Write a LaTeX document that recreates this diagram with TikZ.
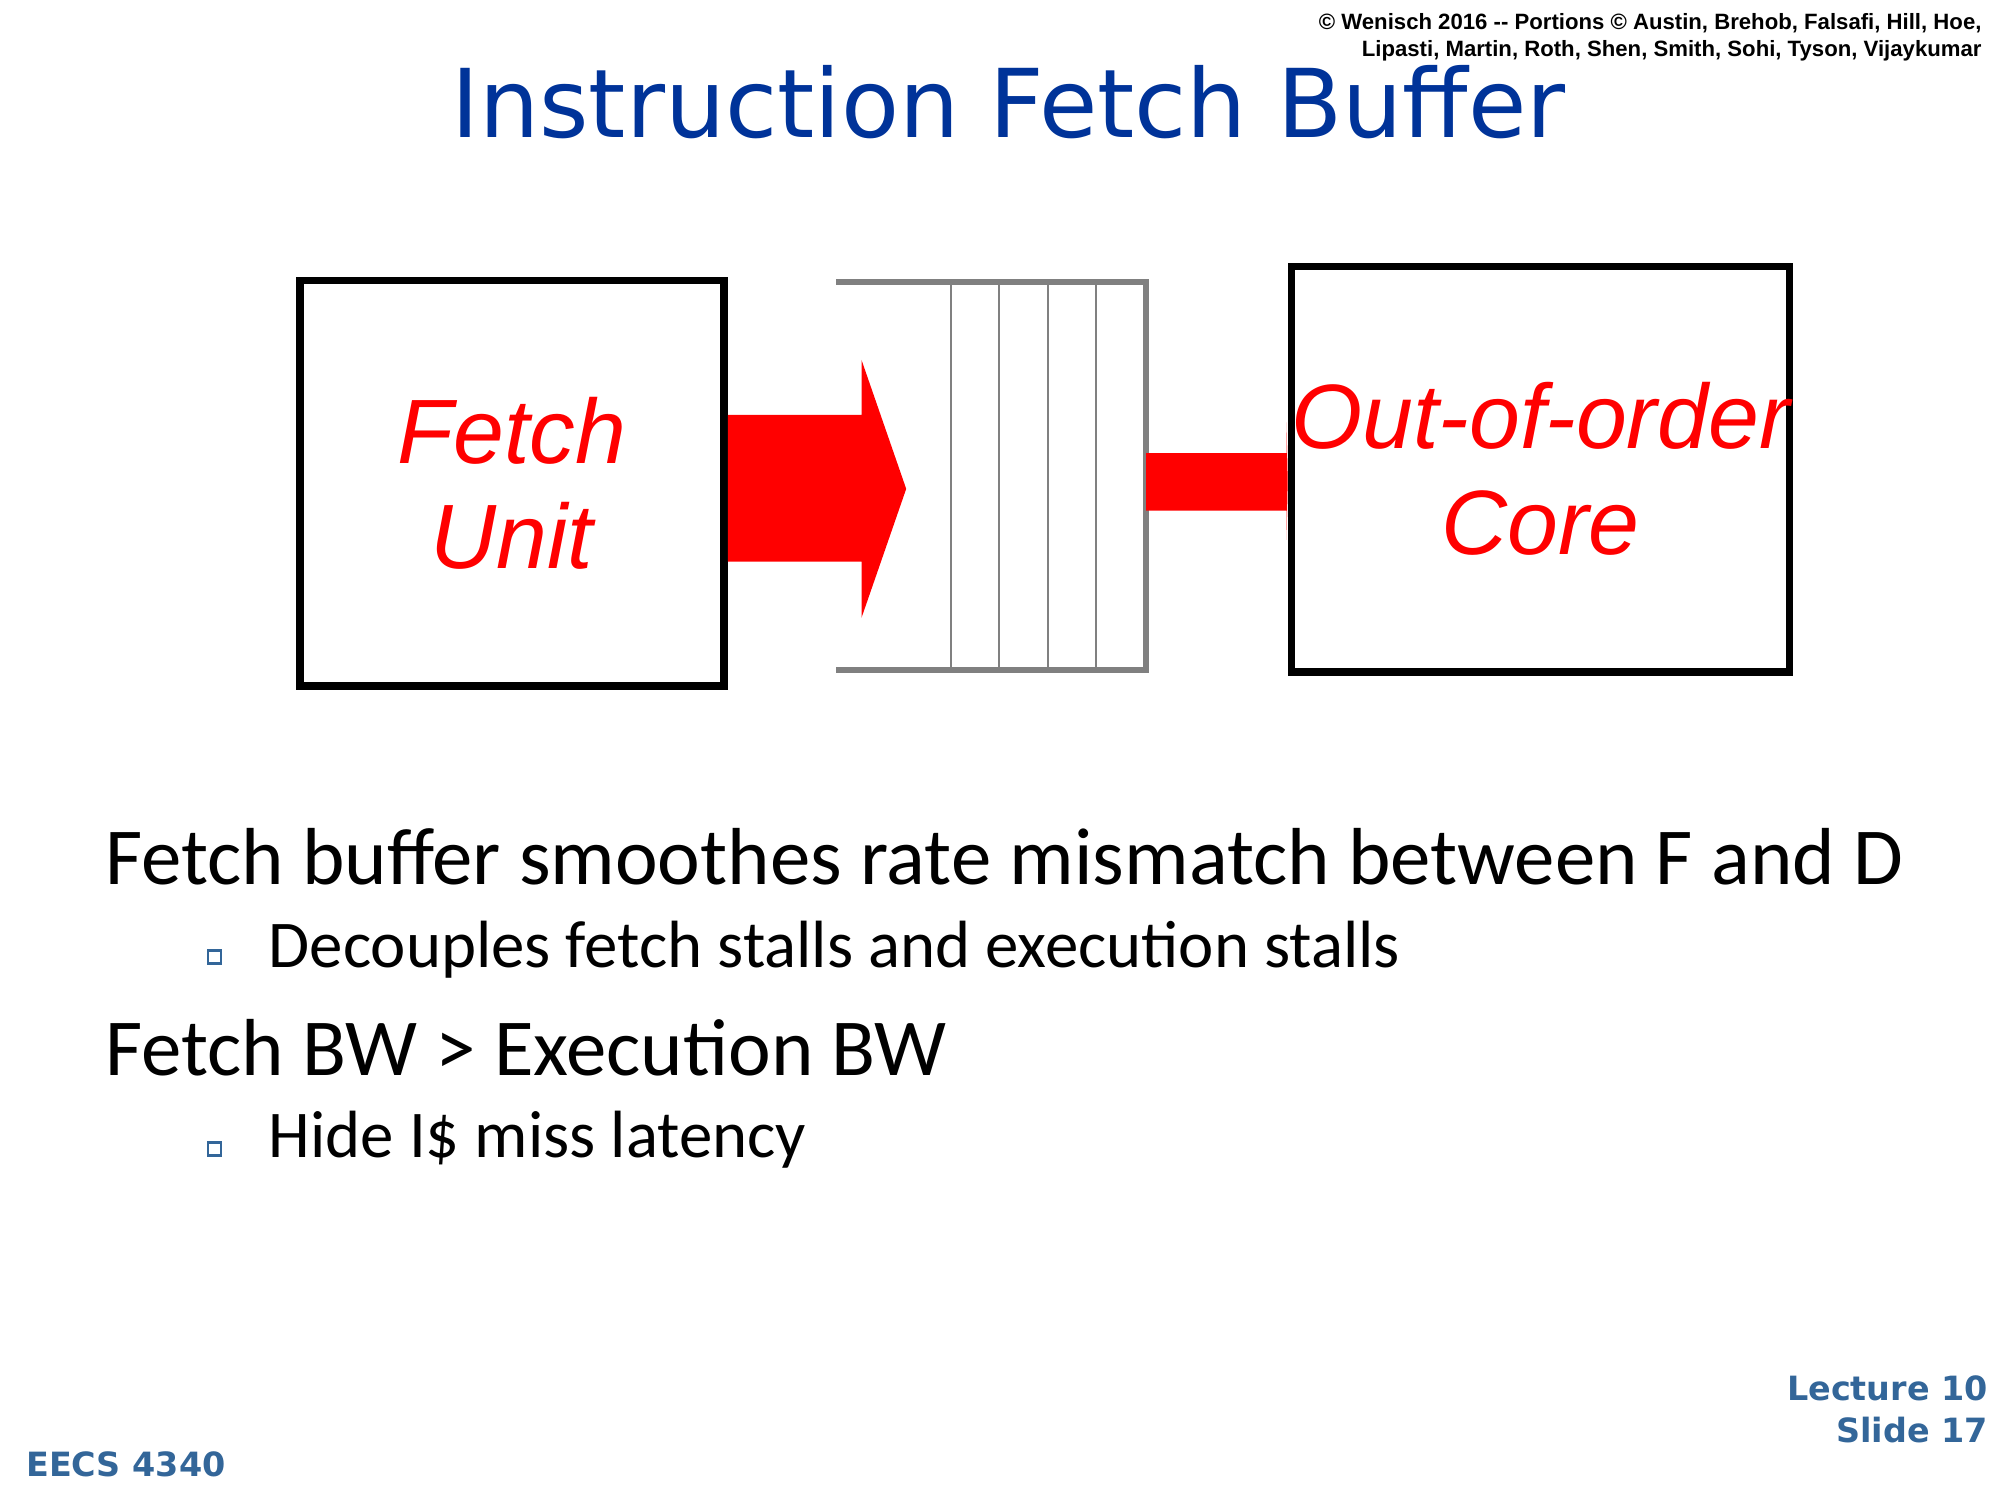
\documentclass[tikz,border=0pt]{standalone}
\usepackage{fontspec}
\setmainfont{Carlito}
\newfontfamily\arialf{Liberation Sans}
\newfontfamily\titlef{DejaVu Sans}
\usetikzlibrary{positioning}
\definecolor{titleblue}{RGB}{0,51,153}
\definecolor{footblue}{RGB}{51,102,153}
\definecolor{bufgray}{RGB}{128,128,128}
\tikzset{
  unit/.style={draw,line width=2.2pt,minimum width=4.24cm,minimum height=4.05cm,
    text=red,font=\arialf\itshape\fontsize{26}{30}\selectfont,align=center,inner sep=0pt},
  fatarrow/.style={fill=red,draw=none},
  bullet/.style={draw=footblue,fill=white,line width=0.8pt,minimum size=0.13cm,inner sep=0pt},
  body/.style={anchor=base west,inner sep=0pt}
}
\begin{document}
\begin{tikzpicture}[x=0.012763cm,y=-0.012763cm]
\useasboundingbox (0,0) rectangle (1567,1175);
% header
\node[anchor=north east,align=right,font=\arialf\bfseries\fontsize{6.3}{7.6}\selectfont,inner sep=0pt] (copy) at (1553,10)
  {© Wenisch 2016 -- Portions © Austin, Brehob, Falsafi, Hill, Hoe,\\Lipasti, Martin, Roth, Shen, Smith, Sohi, Tyson, Vijaykumar};
\node[text=titleblue,font=\titlef\fontsize{27}{32}\selectfont,anchor=base] (title) at (790,108) {Instruction Fetch Buffer};
% units
\node[unit] (fetch) at (401,378.5) {Fetch\\Unit};
\node[unit] (core) at (1207,367.5) {Out-of-order\\Core};
% buffer
\coordinate (btl) at (655,221);
\coordinate (btr) at (898,221);
\coordinate (bbl) at (655,525);
\coordinate (bbr) at (898,525);
\draw[bufgray,line width=1.8pt] (btl) -- (btr) -- (bbr) -- (bbl);
\foreach \x in {745,783,821,859}
  \draw[bufgray,line width=0.5pt] (\x,221) -- (\x,525);
% arrows
\fill[fatarrow] (fetch.east |- 0,325) -- (675,325) -- (675,282) -- (710,383)
  -- (675,484) -- (675,440) -- (fetch.east |- 0,440) -- cycle;
\fill[fatarrow] (btr |- 0,355) -- (1008,355) -- (1008,331) -- (core.west |- 0,377)
  -- (1008,423) -- (1008,400) -- (btr |- 0,400) -- cycle;
% text
\node[body,font=\fontsize{23}{28}\selectfont] (l1) at (82,693) {Fetch buffer smoothes rate mismatch between F and D};
\node[bullet] (b1) at (168,750) {};
\node[body,font=\fontsize{19}{23}\selectfont] (l2) at (210,758) {Decouples fetch stalls and execution stalls};
\node[body,font=\fontsize{23}{28}\selectfont] (l3) at (82,843) {Fetch BW > Execution BW};
\node[bullet] (b2) at (168,900) {};
\node[body,font=\fontsize{19}{23}\selectfont] (l4) at (210,907) {Hide I\$ miss latency};
% footer
\node[body,text=footblue,font=\titlef\bfseries\fontsize{9.5}{11}\selectfont] (eecs) at (20,1157) {EECS 4340};
\node[anchor=base east,align=right,inner sep=0pt,text=footblue,font=\titlef\bfseries\fontsize{9.5}{12}\selectfont] (lect) at (1558,1130) {Lecture 10\\Slide 17};
\end{tikzpicture}
\end{document}
